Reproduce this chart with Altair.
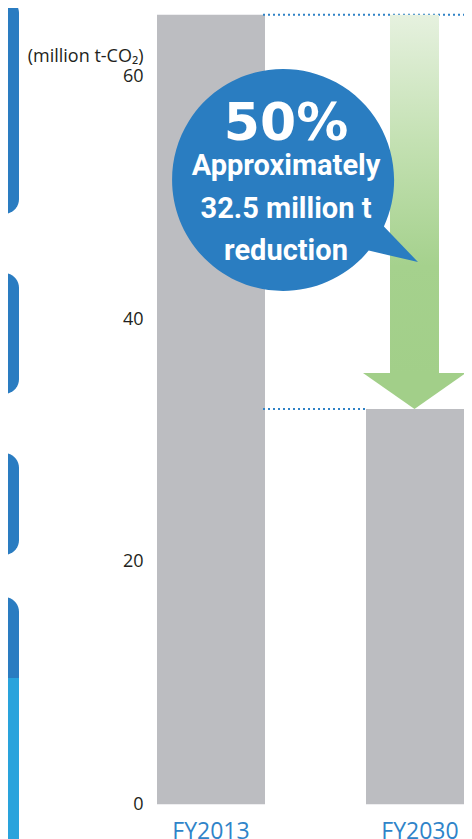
import altair as alt
import pandas as pd

# ---------------- data ----------------
years = ["FY2013", "FY2030"]
emissions = [65.1, 32.6]            # million t-CO2
y_ticks = [0, 20, 40, 60]
unit_label = "(million t-CO₂)"
headline = ["50%"]
bubble_lines = ["Approximately", "32.5 million t", "reduction"]

# ---------------- layout / style ----------------
PLOT_W = 314
PLOT_H = 796.3
Y_MAX = 65.65
PX_PER_UNIT = PLOT_H / Y_MAX
HEAD_H_PX = 36
STEP = 209
INNER = 0.48325
BAR_COLOR = "#bcbdc1"
BLUE = "#2a7dc1"
DOT_BLUE = "#2f82c6"
GREEN = "#a2cf89"
FONT = "Open Sans"
NARROW = "Roboto, sans-serif"

bars_df = pd.DataFrame({"year": years, "value": emissions})
arrow_df = pd.DataFrame({
    "year": [years[1]],
    "top": [emissions[0]],
    "bottom": [emissions[1]],
    "shaft_end": [emissions[1] + (HEAD_H_PX - 1) / PX_PER_UNIT],
})
one = pd.DataFrame({"k": [0]})

x_scale = alt.Scale(domain=years, paddingInner=INNER, paddingOuter=0,
                    range=[7, 7 + STEP * (len(years) - INNER)])
y_scale = alt.Scale(domain=[0, Y_MAX], nice=False, zero=True)

# decorative fragments of neighbouring panels on the left edge
decor = []
for top, bottom, color, tr, br in [
    (-10, 206, "#2a7cc1", 15, 15),
    (265, 386, "#2a7cc1", 15, 15),
    (445, 547, "#2a7cc1", 15, 15),
    (589, 850, "#2a7cc1", 15, 0),
    (670, 850, "#29a3dc", 0, 0),
]:
    decor.append(
        alt.Chart(one).mark_rect(
            color=color, cornerRadiusTopRight=tr, cornerRadiusBottomRight=br
        ).encode(
            x=alt.value(-161), x2=alt.value(-131),
            y=alt.value(top), y2=alt.value(bottom),
        )
    )

bars = alt.Chart(bars_df).mark_bar(color=BAR_COLOR).encode(
    x=alt.X("year:N", scale=x_scale, sort=years,
            axis=alt.Axis(title=None, domain=False, ticks=False, labelAngle=0,
                          labelFont=FONT, labelFontSize=23, labelColor="#2f84c9",
                          labelPadding=16)),
    y=alt.Y("value:Q", scale=y_scale,
            axis=alt.Axis(values=y_ticks, domain=False, ticks=False, grid=False,
                          labelFont=FONT, labelFontSize=18, labelColor="#231f20",
                          labelPadding=7,
                          title=unit_label, titleAngle=0, titleAlign="right",
                          titleBaseline="alphabetic", titleX=-7, titleY=53,
                          titleFont=FONT, titleFontSize=18, titleFontWeight="normal",
                          titleColor="#231f20")),
)

rule_top = alt.Chart(bars_df.iloc[[0]]).mark_rule(
    color=DOT_BLUE, strokeWidth=2, strokeDash=[2, 3]
).encode(x=alt.value(113), x2=alt.value(PLOT_W), y="value:Q")

rule_bottom = alt.Chart(bars_df.iloc[[1]]).mark_rule(
    color=DOT_BLUE, strokeWidth=2, strokeDash=[2, 3]
).encode(x=alt.value(113), x2=alt.value(216), y="value:Q")

shaft = alt.Chart(arrow_df).mark_bar(
    width=49, xOffset=-5.5,
    color=alt.Gradient(
        gradient="linear", x1=0, x2=0, y1=0, y2=1,
        stops=[
            alt.GradientStop(color="#e6f1df", offset=0),
            alt.GradientStop(color="#c4e1b3", offset=0.35),
            alt.GradientStop(color="#a5d18d", offset=0.7),
            alt.GradientStop(color=GREEN, offset=1),
        ],
    ),
).encode(x="year:N", y="top:Q", y2="shaft_end:Q")

head = alt.Chart(arrow_df).mark_point(
    shape="M -1 -0.699 L 1 -0.699 L 0 0 Z", size=103 ** 2, filled=True,
    fill=GREEN, opacity=1, strokeWidth=0, xOffset=-5.5,
).encode(x="year:N", y="bottom:Q")

bubble = alt.Chart(one).mark_point(
    shape="M 0.772 0.636 A 1 1 0 1 1 0.909 0.418 L 1.216 0.739 Z",
    size=222 ** 2, filled=True, fill=BLUE, opacity=1, strokeWidth=0,
).encode(x=alt.value(133), y=alt.value(172))

big = alt.Chart(pd.DataFrame({"t": headline})).mark_text(
    font="DejaVu Sans", fontWeight="bold", fontSize=52, color="white",
    align="center", baseline="alphabetic",
).encode(x=alt.value(136), y=alt.value(132), text="t:N")

lines = alt.Chart(pd.DataFrame({"t": ["\n".join(bubble_lines)]})).mark_text(
    font=NARROW, fontWeight="bold", fontSize=29, color="white",
    align="center", baseline="alphabetic", lineBreak="\n", lineHeight=42.5,
).encode(x=alt.value(136), y=alt.value(167), text="t:N")

chart = alt.layer(
    *decor, bars, rule_top, rule_bottom, shaft, head, bubble, big, lines
).properties(
    width=PLOT_W, height=PLOT_H,
    background="white",
    autosize=alt.AutoSizeParams(type="none"),
    padding={"left": 142, "top": 0, "right": 0, "bottom": 38.7},
).configure_view(stroke=None, strokeWidth=0)

chart.save("out.html", embed_options={"renderer": "svg", "actions": False})
